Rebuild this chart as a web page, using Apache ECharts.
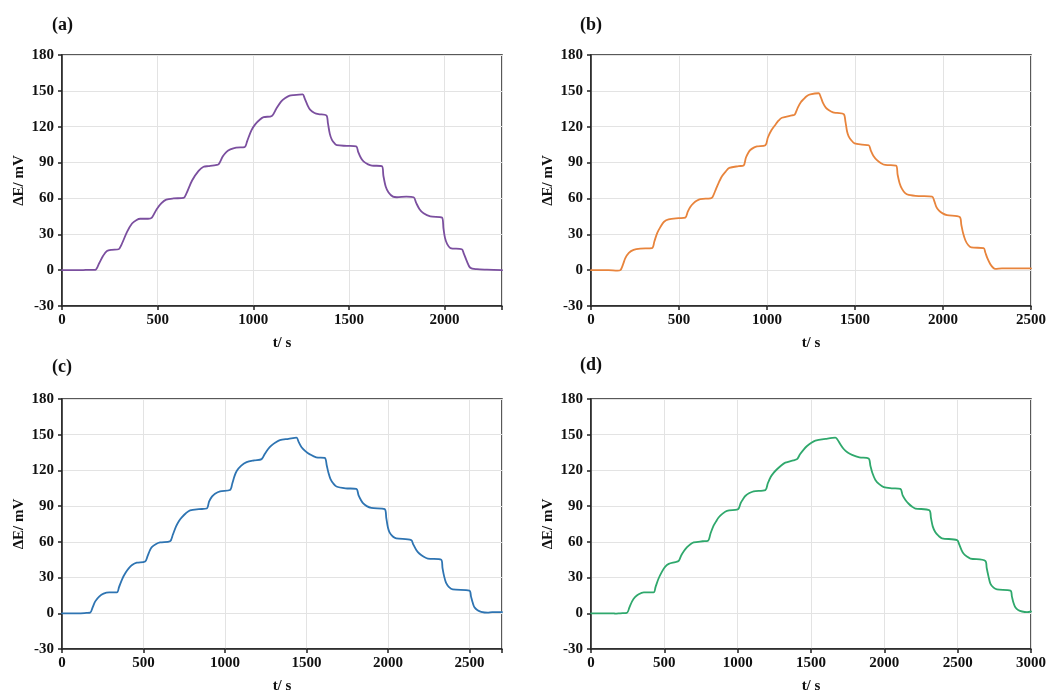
<!DOCTYPE html>
<html>
<head>
<meta charset="utf-8">
<script src="https://cdn.jsdelivr.net/npm/echarts@6/dist/echarts.min.js"></script>
<style>
html,body{margin:0;padding:0;background:#fff;}
#chart{width:1051px;height:695px;}
</style>
</head>
<body>
<div id="chart"></div>
<script>
// Panel labels and axis ranges
const panelLabels = ['(a)', '(b)', '(c)', '(d)'];
const xMax = [2300, 2500, 2700, 3000];
const xInterval = 500;
const yMin = -30, yMax = 180, yInterval = 30;
const yName = 'ΔE/ mV';
const xName = 't/ s';
const lineColors = ['#7b4f9f', '#e8843c', '#2e74b2', '#2fa86c'];

// Series (a): [t (s), ΔE (mV)]
const seriesA = [[0,0],[100,0],[150,0.3],[174,0.3],[195,6],[215,12],[235,16],[260,17],[296,17.5],[310,21],[340,32],[366,39],[390,42],[409,43],[450,43],[470,44],[495,51],[520,56],[545,59],[583,60],[636,60.5],[650,64],[680,75],[714,83],[740,86.5],[766,87],[810,88],[819,88.5],[840,95],[860,99],[880,101],[910,102.5],[955,103],[968,108],[990,117],[1010,122],[1035,126],[1054,128],[1097,129],[1120,135],[1145,141],[1167,144],[1190,146],[1211,146.5],[1258,147],[1268,144],[1285,137.5],[1298,134],[1320,131.5],[1341,130.5],[1382,129.5],[1390,123],[1400,114],[1411,109],[1425,106],[1437,104.5],[1489,104],[1538,103.5],[1548,99],[1562,94],[1576,91],[1600,88.5],[1620,87.5],[1672,87],[1680,79],[1692,70],[1707,65],[1730,61.5],[1751,61],[1800,61.5],[1838,61],[1852,56],[1869,51],[1890,47.5],[1925,45],[1986,44],[1994,35],[2002,27],[2013,22],[2030,18.5],[2090,17.5],[2100,14],[2115,8],[2134,2],[2169,0.8],[2221,0.4],[2300,0]];

// Series (b)
const seriesB = [[0,0],[100,0],[150,-0.4],[167,0],[180,4],[195,10],[215,14.5],[242,17],[280,18],[347,18.5],[360,24],[376,31],[394,36],[415,40.5],[441,42.5],[498,43.5],[536,44],[550,49],[565,53],[583,56],[600,58],[621,59.5],[678,60],[690,61],[705,66],[722,72],[744,78.5],[765,82.5],[786,85.5],[839,87],[867,87.5],[880,94],[893,98],[905,100.5],[925,102.5],[943,103.5],[991,104.5],[1005,111],[1025,117],[1047,121.5],[1065,125],[1085,127.5],[1142,129.5],[1157,130],[1175,136],[1192,140.5],[1208,143],[1225,145.5],[1246,147],[1294,148],[1305,145],[1318,140],[1334,136],[1350,134],[1375,132],[1398,131.5],[1436,130.5],[1446,124],[1455,116],[1464,112],[1480,108.5],[1498,106],[1540,105],[1578,104.5],[1590,100],[1605,95.5],[1625,92],[1648,89.5],[1672,88],[1733,87.5],[1742,80],[1753,73],[1767,68],[1785,64.5],[1805,63],[1862,62],[1938,61.5],[1950,58],[1962,53],[1976,50],[1998,47.5],[2023,46],[2095,44.5],[2104,38],[2114,31],[2127,25],[2143,21],[2161,19],[2231,18.5],[2240,15],[2252,10],[2269,5],[2285,2],[2297,1],[2335,1.5],[2500,1.5]];

// Series (c)
const seriesC = [[0,0],[100,0],[150,0.3],[173,0.5],[188,5],[204,10],[228,14],[255,16.5],[290,17.5],[337,17.5],[350,22],[370,29],[390,34],[408,37.5],[430,40.5],[459,42.5],[510,43.5],[525,48],[540,53],[551,55.5],[575,58],[602,59.5],[663,60.5],[680,66],[700,73],[718,77.5],[735,80.5],[760,84],[786,86.5],[840,87.5],[888,88],[903,94],[920,98],[939,100.5],[970,102.5],[1031,103.5],[1045,109],[1058,115],[1072,119.5],[1100,124],[1133,127],[1180,128.5],[1225,129.5],[1245,134],[1265,138],[1286,141],[1310,143.5],[1337,145.5],[1390,146.5],[1439,147.5],[1452,144],[1470,139.5],[1495,136],[1521,133.5],[1560,131],[1612,130.5],[1625,124],[1635,118],[1647,113],[1665,109],[1684,106.5],[1740,105],[1806,104.5],[1820,99],[1835,95],[1847,92.5],[1870,90],[1898,88.5],[1980,87.5],[1990,80],[2000,72],[2010,68],[2030,64.5],[2051,63],[2143,61.5],[2155,58],[2175,53],[2194,50],[2220,47.5],[2245,46],[2327,45],[2335,38],[2345,31],[2357,25.5],[2375,22],[2398,20],[2500,19],[2510,14],[2520,9],[2531,5],[2550,2.5],[2572,1.2],[2612,0.5],[2640,1],[2700,1]];

// Series (d)
const seriesD = [[0,0],[150,0],[165,-0.3],[200,0],[245,0.3],[262,5],[280,10],[300,13.5],[325,16],[360,17.5],[427,17.5],[440,22],[460,29],[484,35],[505,39],[530,41.5],[575,43],[598,44],[615,48.5],[635,52.5],[655,55.5],[678,58],[700,59.5],[760,60.5],[798,61],[815,67],[835,73.5],[852,77],[870,80.5],[895,83.5],[927,86],[995,87],[1007,88],[1022,93],[1037,96],[1052,98.5],[1080,101],[1109,102.5],[1189,103.5],[1205,109],[1225,114.5],[1245,118],[1268,121],[1295,124],[1325,126.5],[1380,128.5],[1405,129.5],[1425,133.5],[1450,137.5],[1473,140.5],[1500,143],[1530,145],[1600,146.5],[1666,147.5],[1680,146],[1700,142],[1723,138],[1750,135],[1780,133],[1830,131],[1893,130],[1905,124],[1918,118],[1939,112],[1965,108.5],[1996,106],[2050,105],[2109,104.5],[2125,99],[2145,95],[2166,92],[2190,89.5],[2212,88],[2307,86.5],[2318,80],[2330,73],[2348,68],[2370,65],[2393,63],[2496,61.5],[2510,58],[2525,53.5],[2541,50],[2565,47.5],[2587,46],[2689,44],[2698,38],[2710,31],[2723,25],[2745,21.5],[2768,20],[2860,19],[2870,14],[2880,9],[2893,5],[2915,2.5],[2939,1.5],[2973,1],[3000,1.5]];

const seriesData = [seriesA, seriesB, seriesC, seriesD];

const gridPos = [
  {left: 62, top: 55, width: 440, height: 251},
  {left: 591, top: 55, width: 440, height: 251},
  {left: 62, top: 399, width: 440, height: 252},
  {left: 591, top: 399, width: 440, height: 252}
];
const labelPos = [[52, 16], [580, 16], [52, 358], [580, 356]];

const fontFam = '"Liberation Serif", "Times New Roman", serif';
const chart = echarts.init(document.getElementById('chart'), null, {renderer: 'canvas'});

const grids = [], xAxes = [], yAxes = [], series = [], graphics = [];
for (let i = 0; i < 4; i++) {
  grids.push(Object.assign({show: true, borderColor: '#222', borderWidth: 1.5, backgroundColor: 'transparent'}, gridPos[i]));
  xAxes.push({
    type: 'value', gridIndex: i, min: 0, max: xMax[i], interval: xInterval,
    name: xName, nameLocation: 'middle', nameGap: 30,
    nameTextStyle: {fontFamily: fontFam, fontWeight: 'bold', fontSize: 15, color: '#111'},
    axisLine: {show: true, onZero: false, lineStyle: {color: '#222', width: 1.5}},
    axisTick: {show: true, length: 4, lineStyle: {color: '#222', width: 1.5}},
    axisLabel: {fontFamily: fontFam, fontWeight: 'bold', fontSize: 15, color: '#111', margin: 7,
      formatter: function (v) { return (v % xInterval === 0) ? String(v) : ''; }},
    splitLine: {show: true, lineStyle: {color: '#e3e3e3', width: 1}}
  });
  yAxes.push({
    type: 'value', gridIndex: i, min: yMin, max: yMax, interval: yInterval,
    name: yName, nameLocation: 'middle', nameGap: 35,
    nameTextStyle: {fontFamily: fontFam, fontWeight: 'bold', fontSize: 15, color: '#111'},
    axisLine: {show: true, onZero: false, lineStyle: {color: '#222', width: 1.5}},
    axisTick: {show: true, length: 4, lineStyle: {color: '#222', width: 1.5}},
    axisLabel: {fontFamily: fontFam, fontWeight: 'bold', fontSize: 15, color: '#111', margin: 8,
      formatter: function (v) { return String(v); }},
    splitLine: {show: true, lineStyle: {color: '#e3e3e3', width: 1}}
  });
  series.push({
    type: 'line', xAxisIndex: i, yAxisIndex: i, data: seriesData[i],
    showSymbol: false, smooth: 0.3,
    lineStyle: {color: lineColors[i], width: 1.8, join: 'round', cap: 'round'}, silent: true
  });
  graphics.push({
    type: 'text', left: labelPos[i][0], top: labelPos[i][1],
    style: {text: panelLabels[i], font: 'bold 18px ' + fontFam, fill: '#111'}
  });
}

chart.setOption({
  animation: false,
  backgroundColor: '#fff',
  grid: grids, xAxis: xAxes, yAxis: yAxes, series: series,
  graphic: graphics
});
</script>
</body>
</html>
